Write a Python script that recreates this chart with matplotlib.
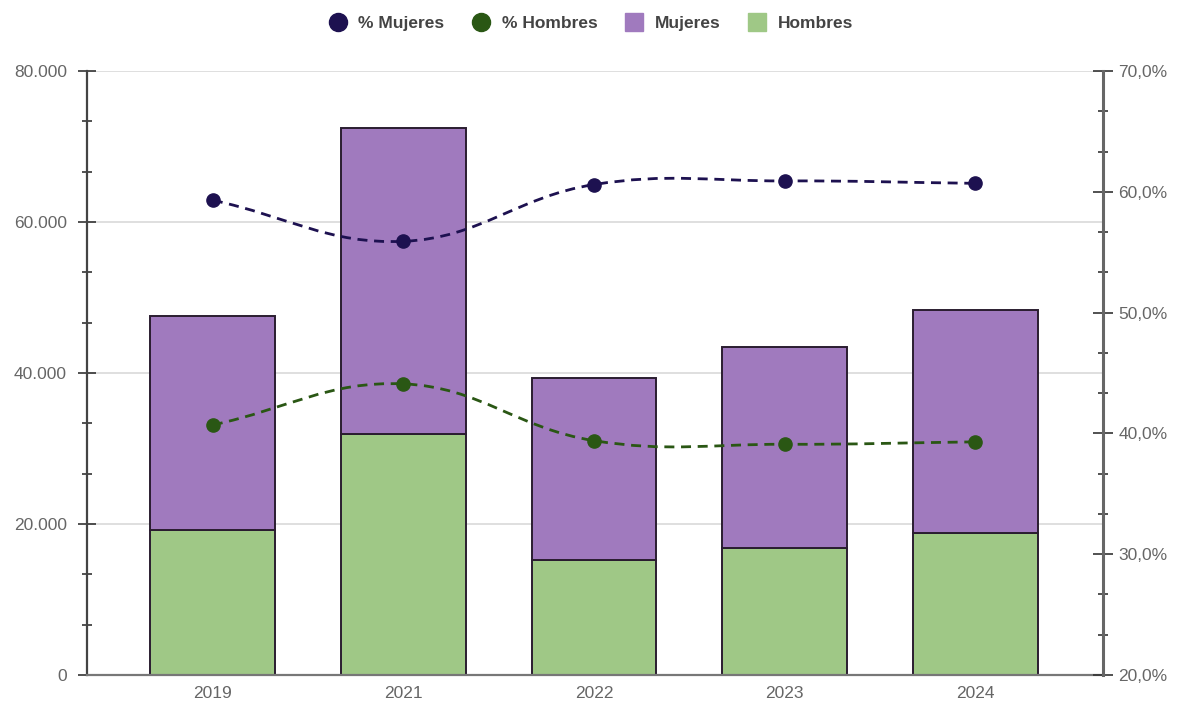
import numpy as np
import matplotlib
matplotlib.use("Agg")
import matplotlib.pyplot as plt
from matplotlib.path import Path
from matplotlib.patches import PathPatch
from matplotlib.lines import Line2D
from matplotlib.ticker import FuncFormatter, MultipleLocator

plt.rcParams['font.family'] = ['Liberation Sans', 'DejaVu Sans']

# data
years = ['2019', '2021', '2022', '2023', '2024']
hombres = [19200, 31900, 15200, 16800, 18800]
mujeres = [28300, 40550, 24100, 26600, 29500]
pct_mujeres = [59.3, 55.9, 60.6, 60.9, 60.7]
pct_hombres = [40.7, 44.1, 39.4, 39.1, 39.3]

col_muj_bar = '#a07abe'
col_hom_bar = '#9fc886'
col_muj_line = '#1d1150'
col_hom_line = '#2a5714'
edge = '#2a1d30'


def spline_path(xs, ys, sx, sy, tension=0.4):
    # chart.js style bezier, control points computed in pixel-ish space
    px = np.array(xs, float) * sx
    py = np.array(ys, float) * sy
    n = len(px)
    cps = []
    for i in range(n):
        p = (px[max(i - 1, 0)], py[max(i - 1, 0)])
        c = (px[i], py[i])
        nx = (px[min(i + 1, n - 1)], py[min(i + 1, n - 1)])
        d01 = np.hypot(c[0] - p[0], c[1] - p[1])
        d12 = np.hypot(nx[0] - c[0], nx[1] - c[1])
        tot = d01 + d12
        s01 = d01 / tot if tot else 0
        s12 = d12 / tot if tot else 0
        fa, fb = tension * s01, tension * s12
        prev_cp = (c[0] - fa * (nx[0] - p[0]), c[1] - fa * (nx[1] - p[1]))
        next_cp = (c[0] + fb * (nx[0] - p[0]), c[1] + fb * (nx[1] - p[1]))
        cps.append((prev_cp, next_cp))
    verts = [(px[0], py[0])]
    codes = [Path.MOVETO]
    for i in range(n - 1):
        verts += [cps[i][1], cps[i + 1][0], (px[i + 1], py[i + 1])]
        codes += [Path.CURVE4] * 3
    verts = [(v[0] / sx, v[1] / sy) for v in verts]
    return Path(verts, codes)


fig = plt.figure(figsize=(11.77, 7.02), dpi=100)
ax = fig.add_axes([87 / 1177, 27 / 702, 1016 / 1177, 604 / 702])
ax2 = ax.twinx()

x = np.arange(len(years))
w = 0.655
ax.bar(x, hombres, w, color=col_hom_bar, edgecolor=edge, linewidth=1.4, zorder=2)
ax.bar(x, mujeres, w, bottom=hombres, color=col_muj_bar, edgecolor=edge,
       linewidth=1.4, zorder=2)

ax.set_xlim(-0.66, 4.67)
ax.set_ylim(0, 80000)
ax2.set_ylim(20, 70)

ax.yaxis.set_major_locator(MultipleLocator(20000))
ax.yaxis.set_minor_locator(MultipleLocator(20000 / 3))
ax2.yaxis.set_major_locator(MultipleLocator(10))
ax2.yaxis.set_minor_locator(MultipleLocator(10 / 3))
ax.yaxis.set_major_formatter(FuncFormatter(lambda v, p: f'{int(v):,}'.replace(',', '.')))
ax2.yaxis.set_major_formatter(FuncFormatter(lambda v, p: f'{v:.1f}%'.replace('.', ',')))

ax.grid(axis='y', color='#d9d9d9', linewidth=1.2, zorder=0)
ax.set_axisbelow(True)
ax.set_xticks(x)
ax.set_xticklabels(years)

for a in (ax, ax2):
    a.spines['top'].set_visible(False)
ax.spines['right'].set_visible(False)
ax.spines['left'].set_color('#444444')
ax.spines['left'].set_linewidth(1.6)
ax.spines['bottom'].set_color('#777777')
ax.spines['bottom'].set_linewidth(1.6)
ax2.spines['left'].set_visible(False)
ax2.spines['bottom'].set_visible(False)
ax2.spines['right'].set_color('#666666')
ax2.spines['right'].set_linewidth(2.2)

ax.tick_params(axis='y', which='major', direction='inout', length=13, width=1.2,
               color='#333333', labelsize=12.5, labelcolor='#666666', pad=8)
ax.tick_params(axis='y', which='minor', direction='inout', length=7, width=1.2,
               color='#333333')
ax2.tick_params(axis='y', which='major', direction='inout', length=14, width=1.2,
                color='#333333', labelsize=12.5, labelcolor='#666666', pad=4)
ax2.tick_params(axis='y', which='minor', direction='inout', length=7, width=1.2,
                color='#333333')
ax.tick_params(axis='x', length=0, labelsize=12.5, labelcolor='#666666', pad=8)

# pixel scale per data unit, used for smooth line shape
sx, sy = 190.5, 12.08
for vals, col in ((pct_mujeres, col_muj_line), (pct_hombres, col_hom_line)):
    path = spline_path(x, vals, sx, sy)
    ax2.add_patch(PathPatch(path, fill=False, edgecolor=col, linewidth=2.0,
                            linestyle=(0, (3.6, 2.4)), zorder=3))
    ax2.plot(x, vals, 'o', color=col, markersize=9.5, zorder=4)

handles = [
    Line2D([], [], marker='o', color=col_muj_line, linestyle='none', markersize=13),
    Line2D([], [], marker='o', color=col_hom_line, linestyle='none', markersize=13),
    Line2D([], [], marker='s', color=col_muj_bar, linestyle='none', markersize=13),
    Line2D([], [], marker='s', color=col_hom_bar, linestyle='none', markersize=13),
]
labels = ['% Mujeres', '% Hombres', 'Mujeres', 'Hombres']
fig.legend(handles, labels, loc='center', bbox_to_anchor=(0.5, 0.966), ncol=4,
           frameon=False, handletextpad=0.4, columnspacing=1.3, handlelength=1.6,
           prop={'weight': 'bold', 'size': 12.5}, labelcolor='#444444')

fig.savefig('out.png', dpi=100, facecolor='white')
